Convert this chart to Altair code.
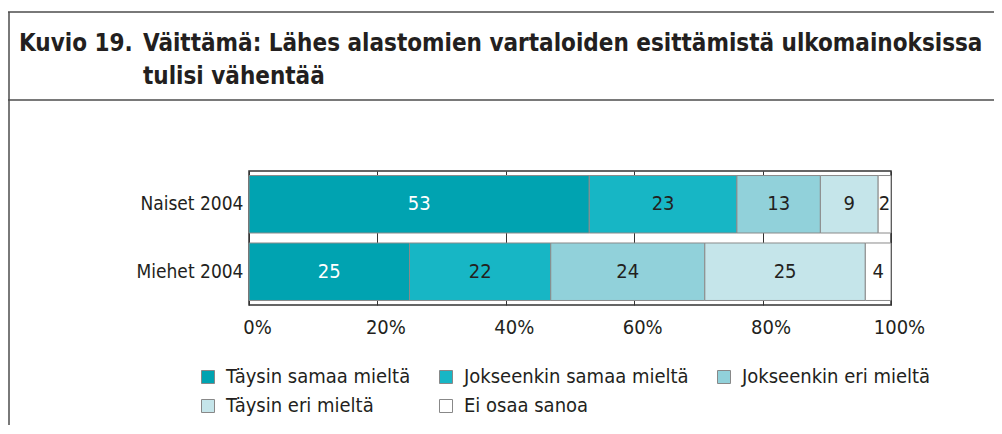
import altair as alt
import pandas as pd

groups = ["Naiset 2004", "Miehet 2004"]
categories = ["Täysin samaa mieltä", "Jokseenkin samaa mieltä",
              "Jokseenkin eri mieltä", "Täysin eri mieltä", "Ei osaa sanoa"]
naiset = [53, 23, 13, 9, 2]
miehet = [25, 22, 24, 25, 4]
colors = ["#00a3b1", "#17b6c5", "#91d1da", "#c5e5ea", "#ffffff"]
ticks = [0, 20, 40, 60, 80, 100]
title_prefix = "Kuvio 19."
title_lines = ["Väittämä: Lähes alastomien vartaloiden esittämistä ulkomainoksissa",
               "tulisi vähentää"]

rows = []
for g, vals in zip(groups, [naiset, miehet]):
    for i, (c, v) in enumerate(zip(categories, vals)):
        rows.append({"group": g, "category": c, "value": v, "order": i})
df = pd.DataFrame(rows)

FONT = "'DejaVu Sans Condensed', 'Liberation Sans', sans-serif"
TXT = "#231f20"
FS = 19
W, H = 642, 134
PAD_L, PAD_T, PAD_R, PAD_B = 241, 163, 103, 120

x_scale = alt.Scale(domain=[0, 100], nice=False)
y_scale = alt.Scale(paddingInner=0.148, paddingOuter=0.067)

bars = alt.Chart(df).mark_bar(stroke="#8a8a8a", strokeWidth=1).encode(
    x=alt.X("value:Q", stack="zero", scale=x_scale,
            axis=alt.Axis(title=None, values=ticks, labelExpr="datum.value + '%'",
                          grid=True, gridColor="#333333", gridWidth=1, ticks=False,
                          domain=False, labelFontSize=20, labelFont=FONT,
                          labelColor=TXT, labelPadding=12, labelOffset=8,
                          labelFlush=False)),
    y=alt.Y("group:N", sort=groups, scale=y_scale,
            axis=alt.Axis(title=None, ticks=False, domain=False, labelFontSize=FS,
                          labelFont=FONT, labelColor=TXT, labelPadding=6,
                          labelLimit=300)),
    color=alt.Color("category:N", sort=categories,
                    scale=alt.Scale(domain=categories, range=colors),
                    legend=alt.Legend(title=None, orient="none", legendX=-51, legendY=196,
                                      direction="horizontal",
                                      columns=3, symbolType="square", symbolSize=169,
                                      symbolStrokeColor="#888888", symbolStrokeWidth=1,
                                      labelFontSize=20, labelFont=FONT, labelColor=TXT,
                                      labelLimit=400,
                                      columnPadding=25, rowPadding=9, labelOffset=8,
                                      padding=0)),
    order=alt.Order("order:Q"),
)

labels = alt.Chart(df).transform_window(
    cum="sum(value)", groupby=["group"], sort=[alt.SortField("order")]
).transform_calculate(
    mid="datum.cum - datum.value / 2"
).mark_text(fontSize=20, font=FONT).encode(
    x=alt.X("mid:Q", scale=x_scale),
    y=alt.Y("group:N", sort=groups, scale=y_scale),
    text="value:Q",
    color=alt.condition("datum.order == 0", alt.value("white"), alt.value(TXT)),
)

one = pd.DataFrame({"k": [0]})
FRAME = "#4d4d4d"
top_line = alt.Chart(one).mark_rule(color=FRAME, strokeWidth=1.5).encode(
    x=alt.value(-PAD_L), x2=alt.value(W + PAD_R), y=alt.value(-159))
sep_line = alt.Chart(one).mark_rule(color=FRAME, strokeWidth=1.5).encode(
    x=alt.value(-PAD_L), x2=alt.value(W + PAD_R), y=alt.value(-71))
left_line = alt.Chart(one).mark_rule(color=FRAME, strokeWidth=1.5).encode(
    x=alt.value(-PAD_L + 1), y=alt.value(-159), y2=alt.value(H + PAD_B))

tstyle = dict(align="left", baseline="alphabetic", fontSize=24, fontWeight="bold",
              font=FONT, color=TXT)
t0 = alt.Chart(one).mark_text(**tstyle).encode(
    x=alt.value(-230), y=alt.value(-120), text=alt.value(title_prefix))
t1 = alt.Chart(one).mark_text(**tstyle).encode(
    x=alt.value(-106), y=alt.value(-120), text=alt.value(title_lines[0]))
t2 = alt.Chart(one).mark_text(**tstyle).encode(
    x=alt.value(-106), y=alt.value(-87), text=alt.value(title_lines[1]))

chart = alt.layer(top_line, sep_line, left_line, bars, labels, t0, t1, t2).properties(
    width=W, height=H,
    autosize=alt.AutoSizeParams(type="none"),
    padding={"left": PAD_L, "top": PAD_T, "right": PAD_R, "bottom": PAD_B},
).configure_view(stroke="#333333", strokeWidth=1.5)

chart.save("out.html", embed_options={"renderer": "svg", "actions": False})
